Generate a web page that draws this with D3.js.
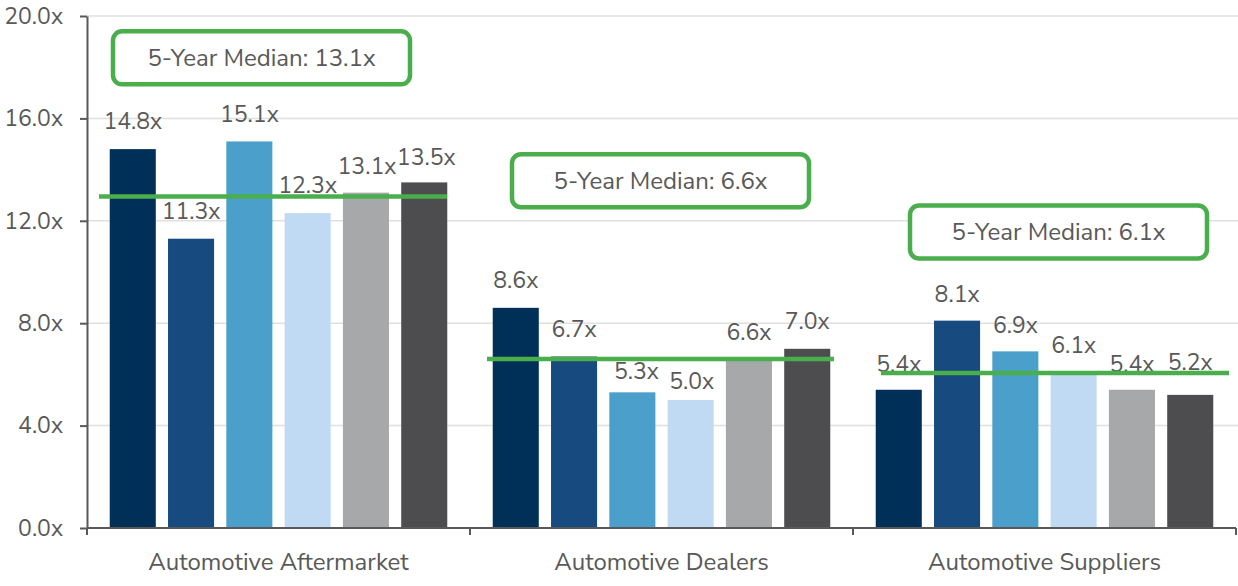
<!DOCTYPE html>
<html>
<head>
<meta charset="utf-8">
<style>
body { margin: 0; background: #fff; }
text { font-family: "Nunito Sans", Lato, "Open Sans", sans-serif; fill: #595959; }
.grid line { stroke: #e0e0e0; stroke-width: 1.5; }
.axis path, .axis line { stroke: #595959; stroke-width: 2; }
</style>
</head>
<body>
<svg width="1238" height="586"></svg>
<script src="https://d3js.org/d3.v7.min.js"></script>
<script>

// chart values
var categories = ["Automotive Aftermarket", "Automotive Dealers", "Automotive Suppliers"];
var series = ["Year 1", "Year 2", "Year 3", "Year 4", "Year 5", "Year 6"];
var aftermarket = [14.8, 11.3, 15.1, 12.3, 13.1, 13.5];
var dealers = [8.6, 6.7, 5.3, 5.0, 6.6, 7.0];
var suppliers = [5.4, 8.1, 6.9, 6.1, 5.4, 5.2];
var medians = [13.1, 6.6, 6.1];
// where the green median lines sit in the picture
var medianLevels = [12.95, 6.6, 6.05];
var yTicks = [0, 4, 8, 12, 16, 20];
var colors = ["#003057", "#174a7e", "#4ba0cb", "#c1daf3", "#a7a8aa", "#4d4d4f"];

var values = [aftermarket, dealers, suppliers];

// annotation layout (box left offset within group px, box top in y units, line span within group px)
var boxLeft = [26, 42, 57];
var boxTop = [19.4, 14.6, 12.6];
var lineSpan = [[12, 360], [17, 364], [28, 376]];
// gap between bar top and label baseline (labels were nudged by hand in the original)
var labelGap = [[20, 20, 19, 20, 19, 17], [20, 19, 13, 11, 19, 20], [18, 19, 18, 19, 18, 25]];
var labelShift = [[0, 0, 0, 0, 1, 2], [0, 0, 4, 1, 0, 0], [0, 0, 0, 0, 0, 0]];

var svg = d3.select("svg"),
  plotLeft = 87, plotRight = 1236, plotTop = 16, plotBottom = 528;

var x0 = d3.scaleBand().domain(categories).range([plotLeft, plotRight]);
var x1 = d3.scaleBand().domain(series).range([0, x0.bandwidth()])
  .paddingInner(0.21).paddingOuter(0.39);
var y = d3.scaleLinear().domain([0, 20]).range([plotBottom, plotTop]);

// gridlines
svg.append("g").attr("class", "grid")
  .selectAll("line").data(yTicks.slice(1))
  .enter().append("line")
    .attr("x1", plotLeft).attr("x2", 1238)
    .attr("y1", function(d) { return y(d); })
    .attr("y2", function(d) { return y(d); });

// bars
var groups = svg.append("g").selectAll("g")
  .data(categories)
  .enter().append("g")
    .attr("transform", function(d) { return "translate(" + x0(d) + ",0)"; });

groups.selectAll("rect")
  .data(function(d, i) { return values[i].map(function(v, j) { return {s: series[j], v: v, j: j}; }); })
  .enter().append("rect")
    .attr("x", function(d) { return x1(d.s); })
    .attr("width", x1.bandwidth())
    .attr("y", function(d) { return y(d.v); })
    .attr("height", function(d) { return plotBottom - y(d.v); })
    .attr("fill", function(d) { return colors[d.j]; });

// value labels
groups.selectAll("text.val")
  .data(function(d, i) { return values[i].map(function(v, j) { return {s: series[j], v: v, i: i, j: j}; }); })
  .enter().append("text")
    .attr("class", "val")
    .attr("x", function(d) { return x1(d.s) + x1.bandwidth() / 2 + labelShift[d.i][d.j]; })
    .attr("y", function(d) { return y(d.v) - labelGap[d.i][d.j]; })
    .attr("text-anchor", "middle")
    .style("font-size", "23px")
    .text(function(d) { return d.v.toFixed(1) + "x"; });

// median lines
groups.append("line")
  .attr("x1", function(d, i) { return lineSpan[i][0]; })
  .attr("x2", function(d, i) { return lineSpan[i][1]; })
  .attr("y1", function(d, i) { return y(medianLevels[i]); })
  .attr("y2", function(d, i) { return y(medianLevels[i]); })
  .attr("stroke", "#4aae4d")
  .attr("stroke-width", 4.5);

// median boxes
groups.append("rect")
  .attr("x", function(d, i) { return boxLeft[i]; })
  .attr("y", function(d, i) { return y(boxTop[i]); })
  .attr("width", 297).attr("height", 53)
  .attr("rx", 9)
  .attr("fill", "#fff")
  .attr("stroke", "#4aae4d")
  .attr("stroke-width", 4.5);

groups.append("text")
  .attr("x", function(d, i) { return boxLeft[i] + 148.5; })
  .attr("y", function(d, i) { return y(boxTop[i]) + 35; })
  .attr("text-anchor", "middle")
  .style("font-size", "24px")
  .text(function(d, i) { return "5-Year Median: " + medians[i].toFixed(1) + "x"; });

// axes
var yAxis = svg.append("g").attr("class", "axis")
  .attr("transform", "translate(" + plotLeft + ",0)")
  .call(d3.axisLeft(y).tickValues(yTicks).tickSize(7).tickSizeOuter(0).tickPadding(17)
    .tickFormat(function(d) { return d.toFixed(1) + "x"; }));
yAxis.selectAll("text").style("font-size", "23px").attr("fill", "#595959");

var xAxis = svg.append("g").attr("class", "axis")
  .attr("transform", "translate(0," + plotBottom + ")");
xAxis.append("line").attr("x1", plotLeft).attr("x2", plotRight);
xAxis.selectAll("line.tick")
  .data([plotLeft].concat(categories.map(function(c) { return x0(c) + x0.bandwidth(); })))
  .enter().append("line")
    .attr("class", "tick")
    .attr("x1", function(d) { return d; }).attr("x2", function(d) { return d; })
    .attr("y1", 0).attr("y2", 7);
xAxis.selectAll("text")
  .data(categories)
  .enter().append("text")
    .attr("x", function(d) { return x0(d) + x0.bandwidth() / 2; })
    .attr("y", 42)
    .attr("text-anchor", "middle")
    .style("font-size", "24px")
    .text(function(d) { return d; });

</script>
</body>
</html>
